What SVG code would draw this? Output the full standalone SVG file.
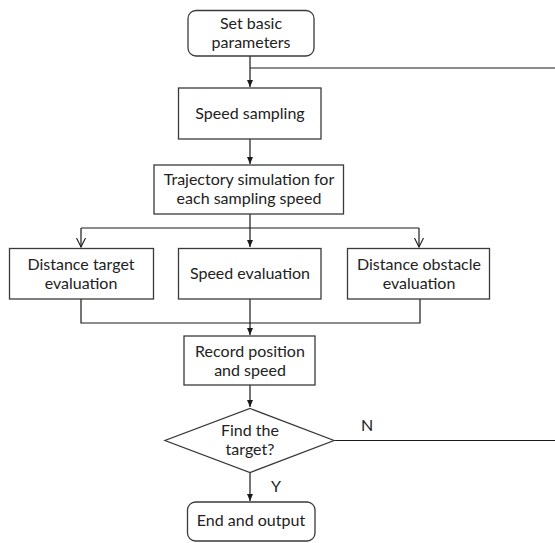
<svg xmlns="http://www.w3.org/2000/svg" width="555" height="543" viewBox="0 0 555 543">
<style>
.box{fill:#fff;stroke:#3a3a3a;stroke-width:1.3}
.t{font-family:Lato,"Liberation Sans",Arial,sans-serif;font-size:16px;fill:#222;text-anchor:middle;dominant-baseline:central}
.c{fill:none;stroke:#1a1a1a;stroke-width:1.2}
</style>
<defs>
<marker id="af" markerWidth="8" markerHeight="8" refX="7" refY="4" orient="auto" markerUnits="userSpaceOnUse">
<path d="M0,1 L7,4 L0,7 Z" fill="#1a1a1a"/>
</marker>
<marker id="ao" markerWidth="10" markerHeight="12" refX="9" refY="5" orient="auto" markerUnits="userSpaceOnUse">
<path d="M0,0.5 L9,5 L0,9.5" fill="none" stroke="#1a1a1a" stroke-width="1.1"/>
</marker>
</defs>
<rect width="555" height="543" fill="#fff"/>
<g id="connectors">
<path class="c" d="M250,56 V87" marker-end="url(#af)"/>
<path class="c" d="M250,68 H555"/>
<path class="c" d="M250,139 V164" marker-end="url(#af)"/>
<path class="c" d="M250,214 V247" marker-end="url(#af)"/>
<path class="c" d="M81,228 H419"/>
<path class="c" d="M81,228 V247" marker-end="url(#ao)"/>
<path class="c" d="M419,228 V247" marker-end="url(#ao)"/>
<path class="c" d="M81,299 V323 H420 V299"/>
<path class="c" d="M250,299 V335" marker-end="url(#af)"/>
<path class="c" d="M250,385 V407" marker-end="url(#af)"/>
<path class="c" d="M334,440.5 H555"/>
<path class="c" d="M250,472 V501" marker-end="url(#af)"/>
<text class="t" x="367" y="424.5">N</text>
<text class="t" x="276" y="485.5">Y</text>
</g>
<g id="start">
<rect class="box" x="188" y="10.5" width="126" height="45.5" rx="8"/>
<text class="t" x="251" y="22.5">Set basic</text>
<text class="t" x="251" y="41.5">parameters</text>
</g>
<g id="speed-sampling">
<rect class="box" x="178.5" y="88" width="142.5" height="51"/>
<text class="t" x="250" y="112.5">Speed sampling</text>
</g>
<g id="trajectory">
<rect class="box" x="154" y="165" width="189.5" height="49"/>
<text class="t" x="249" y="178.5">Trajectory simulation for</text>
<text class="t" x="249" y="197.5">each sampling speed</text>
</g>
<g id="distance-target">
<rect class="box" x="9.5" y="248.5" width="144" height="50.5"/>
<text class="t" x="81" y="263">Distance target</text>
<text class="t" x="81" y="282">evaluation</text>
</g>
<g id="speed-evaluation">
<rect class="box" x="178.5" y="248.5" width="142.5" height="50.5"/>
<text class="t" x="250" y="272.5">Speed evaluation</text>
</g>
<g id="distance-obstacle">
<rect class="box" x="347.5" y="248.5" width="142" height="50.5"/>
<text class="t" x="419" y="263">Distance obstacle</text>
<text class="t" x="419" y="282">evaluation</text>
</g>
<g id="record">
<rect class="box" x="184" y="336" width="131" height="49"/>
<text class="t" x="250" y="350">Record position</text>
<text class="t" x="250" y="369">and speed</text>
</g>
<g id="decision">
<polygon class="box" points="250,408.5 334,440.5 250,472.5 165,440.5"/>
<text class="t" x="250" y="429.5">Find the</text>
<text class="t" x="250" y="448.5">target?</text>
</g>
<g id="end">
<rect class="box" x="187.5" y="502" width="127.5" height="39" rx="8"/>
<text class="t" x="251" y="519.5">End and output</text>
</g>
</svg>
